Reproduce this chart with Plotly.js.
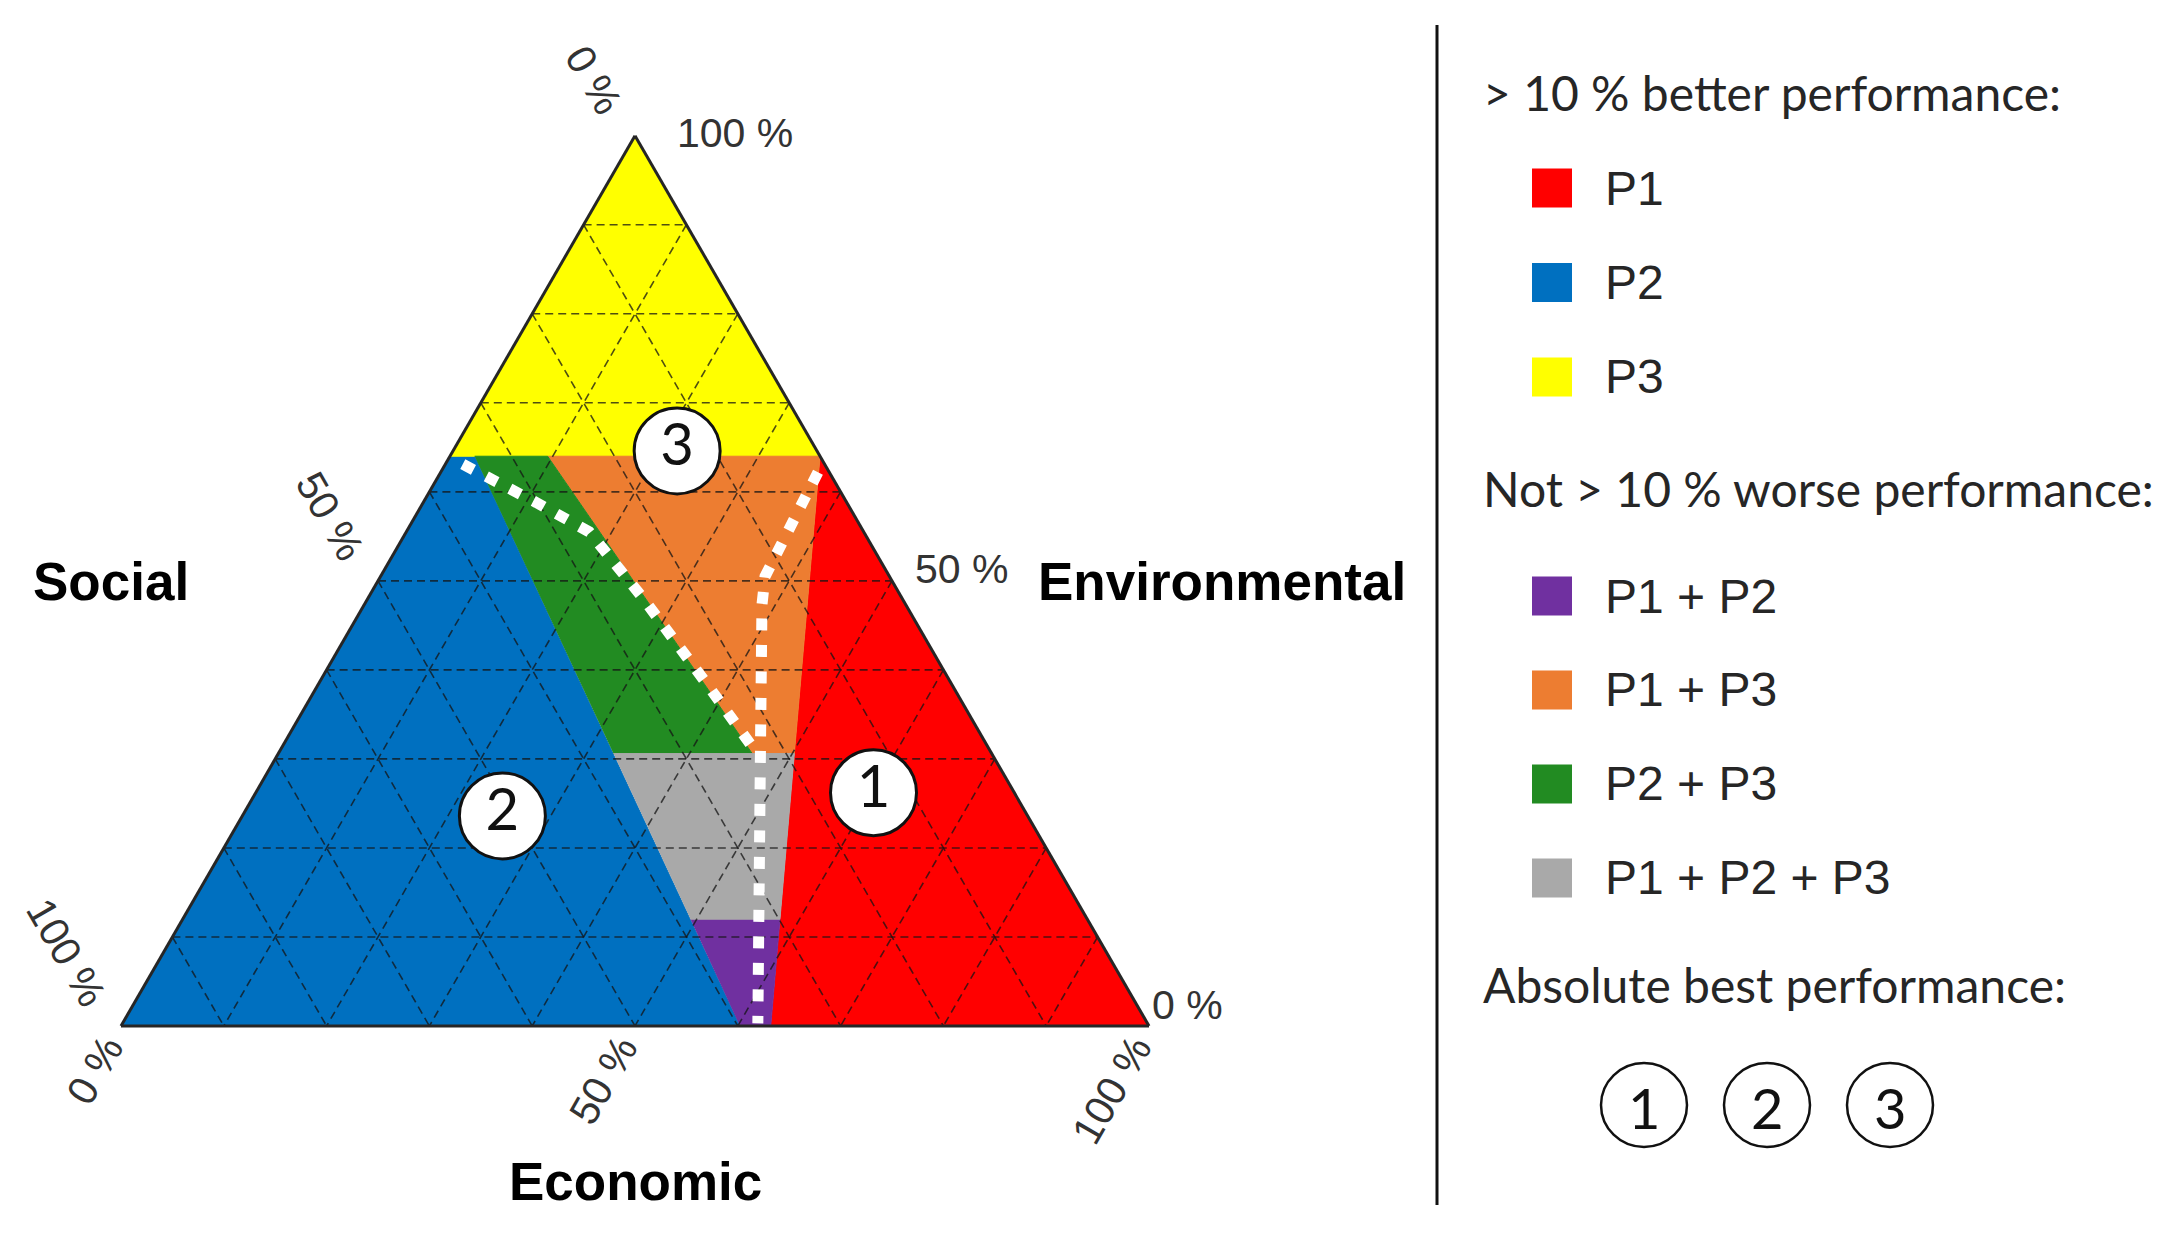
<!DOCTYPE html>
<html>
<head>
<meta charset="utf-8">
<title>Diagrama ternario</title>
<script src="https://cdn.plot.ly/plotly-3.0.1.min.js"></script>
<style>
  body { margin: 0; background: #fff; }
  #grafica { width: 2179px; height: 1240px; }
</style>
</head>
<body>
<div id="grafica"></div>
<script>
// Regiones del diagrama (fracciones Environmental / Social / Economic)
var nombres = ['P1', 'P2', 'P3', 'P1 + P2', 'P1 + P3', 'P2 + P3', 'P1 + P2 + P3'];
var colores = ['#ff0000', '#0070c0', '#ffff00', '#7030a0', '#ed7d31', '#228b22', '#a9a9a9'];

var envP1 = [0.64, 0, 0];
var socP1 = [0, 0, 0.368];
var ecoP1 = [0.36, 1, 0.632];

var envP2 = [0, 0.64, 0.64, 0];
var socP2 = [1, 0.36, 0.336, 0.398];
var ecoP2 = [0, 0, 0.024, 0.602];

var envP3 = [1, 0.64, 0.64];
var socP3 = [0, 0.36, 0];
var ecoP3 = [0, 0, 0.36];

var envP12 = [0.12, 0.12, 0, 0];
var socP12 = [0.386, 0.299, 0.368, 0.398];
var ecoP12 = [0.494, 0.581, 0.632, 0.602];

var envP13 = [0.64, 0.64, 0.306, 0.306];
var socP13 = [0.265, 0, 0.192, 0.233];
var ecoP13 = [0.095, 0.36, 0.502, 0.461];

var envP23 = [0.64, 0.64, 0.306, 0.306];
var socP23 = [0.336, 0.265, 0.233, 0.368];
var ecoP23 = [0.024, 0.095, 0.461, 0.326];

var envP123 = [0.306, 0.306, 0.12, 0.12];
var socP123 = [0.368, 0.192, 0.299, 0.386];
var ecoP123 = [0.326, 0.502, 0.581, 0.494];

// Lineas punteadas blancas
var envLineaA = [0.631, 0.588, 0.555, 0.481, 0.384, 0.304];
var socLineaA = [0.352, 0.302, 0.267, 0.252, 0.238, 0.228];
var ecoLineaA = [0.017, 0.11, 0.178, 0.267, 0.378, 0.468];

var envLineaB = [0.622, 0.505, 0.473, 0.306, 0.003];
var socLineaB = [0.011, 0.121, 0.14, 0.225, 0.379];
var ecoLineaB = [0.367, 0.374, 0.387, 0.469, 0.618];

// Mejor desempeno absoluto
var envMejor = [0.262, 0.236, 0.646];
var socMejor = [0.137, 0.511, 0.136];
var ecoMejor = [0.601, 0.253, 0.218];
var textoMejor = ['1', '2', '3'];

// Rejilla y etiquetas de los ejes
var marcas = [0.1, 0.2, 0.3, 0.4, 0.5, 0.6, 0.7, 0.8, 0.9];
var valoresEje = [0, 0.5, 1];
var etiquetasEje = ['0 %', '50 %', '100 %'];
var titulosEje = ['Social', 'Environmental', 'Economic'];

var titulosLeyenda = ['> 10 % better performance:', 'Not > 10 % worse performance:', 'Absolute best performance:'];

var envRegiones = [envP1, envP2, envP3, envP12, envP13, envP23, envP123];
var socRegiones = [socP1, socP2, socP3, socP12, socP13, socP23, socP123];
var ecoRegiones = [ecoP1, ecoP2, ecoP3, ecoP12, ecoP13, ecoP23, ecoP123];

var W = 2179, H = 1240;
var triX0 = 121, triX1 = 1149, triBase = 1026;
var triW = triX1 - triX0;
var triH = triW * Math.sqrt(3) / 2;

function aPixel(env, eco) {
    return [triX0 + triW * (eco + env / 2), triBase - triH * env];
}

function anchoTexto(s, size) {
    var total = 0;
    for (var i = 0; i < s.length; i++) {
        var ch = s.charAt(i);
        if (ch === ' ') total += 0.278;
        else if (ch === '%') total += 0.889;
        else total += 0.556;
    }
    return total * size;
}

function nota(px, py, texto, extra) {
    var n = {xref: 'paper', yref: 'paper', x: px / W, y: 1 - py / H, text: texto,
             showarrow: false, xanchor: 'center', yanchor: 'middle'};
    for (var k in extra) n[k] = extra[k];
    return n;
}

var datos = [];
for (var i = 0; i < nombres.length; i++) {
    datos.push({
        type: 'scatterternary', name: nombres[i],
        a: envRegiones[i], b: socRegiones[i], c: ecoRegiones[i],
        mode: 'lines', fill: 'toself', fillcolor: colores[i],
        line: {width: 1, color: colores[i]},
        hoverinfo: 'skip', showlegend: false
    });
}

// rejilla punteada encima de las regiones
var gA = [], gB = [], gC = [];
for (var i = 0; i < marcas.length; i++) {
    var v = marcas[i];
    gA.push(v, v, null, 1 - v, 0, null, 1 - v, 0, null);
    gB.push(1 - v, 0, null, v, v, null, 0, 1 - v, null);
    gC.push(0, 1 - v, null, 0, 1 - v, null, v, v, null);
}
datos.push({
    type: 'scatterternary', a: gA, b: gB, c: gC, mode: 'lines',
    line: {color: 'rgba(20,20,20,0.75)', width: 1.6, dash: '8px,5px'},
    hoverinfo: 'skip', showlegend: false
});

var lineasA = [envLineaA, envLineaB], lineasB = [socLineaA, socLineaB], lineasC = [ecoLineaA, ecoLineaB];
for (var i = 0; i < 2; i++) {
    datos.push({
        type: 'scatterternary', a: lineasA[i], b: lineasB[i], c: lineasC[i], mode: 'lines',
        line: {color: 'white', width: 11, dash: '12px,14.5px'},
        hoverinfo: 'skip', showlegend: false
    });
}

datos.push({
    type: 'scatterternary', a: envMejor, b: socMejor, c: ecoMejor, text: textoMejor,
    mode: 'markers+text', textposition: 'middle center',
    marker: {size: 86, color: 'white', line: {color: '#111', width: 3}},
    textfont: {family: 'Lato, sans-serif', size: 58, color: '#111'},
    hoverinfo: 'skip', showlegend: false, cliponaxis: false
});

function ejeTernario() {
    return {min: 0, showgrid: false, showticklabels: false, ticks: '',
            linecolor: '#262626', linewidth: 3, layer: 'above traces', title: {text: ''}};
}

var anotaciones = [];
var fuenteMarca = {family: 'Liberation Sans, Arial, sans-serif', size: 41, color: '#333'};

for (var i = 0; i < valoresEje.length; i++) {
    var v = valoresEje[i];
    var t = etiquetasEje[i];
    var w = anchoTexto(t, fuenteMarca.size);
    // Social: borde izquierdo
    var p = aPixel(1 - v, 0);
    var d = 34 + w / 2;
    anotaciones.push(nota(p[0] - 0.6 * d, p[1] - 0.8 * d, t, {textangle: 60, font: fuenteMarca}));
    // Economic: borde inferior
    p = aPixel(0, v);
    d = 16 + w / 2;
    anotaciones.push(nota(p[0] - 0.5 * d, p[1] + 0.866 * d, t, {textangle: -60, font: fuenteMarca}));
    // Environmental: borde derecho
    p = aPixel(v, 1 - v);
    anotaciones.push(nota(p[0] + 1 + 39 * v, p[1] - 21 + 18 * v, t, {xanchor: 'left', font: fuenteMarca}));
}

var fuenteTitulo = {family: 'Liberation Sans, Arial, sans-serif', size: 53, color: '#000'};
anotaciones.push(nota(191, 581, '<b>' + titulosEje[0] + '</b>', {xanchor: 'right', font: fuenteTitulo}));
anotaciones.push(nota(1036, 581, '<b>' + titulosEje[1] + '</b>', {xanchor: 'left', font: fuenteTitulo}));
anotaciones.push(nota(aPixel(0, 0.5)[0], 1181, '<b>' + titulosEje[2] + '</b>', {font: fuenteTitulo}));

// Leyenda dibujada a mano
var figuras = [];
figuras.push({type: 'line', xref: 'paper', yref: 'paper', x0: 1437 / W, x1: 1437 / W,
              y0: 1 - 25 / H, y1: 1 - 1205 / H, line: {color: '#111', width: 3}});

var fuenteCabecera = {family: 'Lato, sans-serif', size: 48, color: '#262626'};
var fuenteItem = {family: 'Liberation Sans, Arial, sans-serif', size: 48, color: '#262626'};
var yCabecera = [93, 489, 984];
for (var i = 0; i < titulosLeyenda.length; i++) {
    anotaciones.push(nota(1481, yCabecera[i], titulosLeyenda[i], {xanchor: 'left', font: fuenteCabecera}));
}

for (var i = 0; i < nombres.length; i++) {
    var y = i < 3 ? 188 + 94.5 * i : 596 + 94 * (i - 3);
    figuras.push({type: 'rect', xref: 'paper', yref: 'paper',
                  x0: 1532 / W, x1: 1572 / W, y0: 1 - (y - 19.5) / H, y1: 1 - (y + 19.5) / H,
                  fillcolor: colores[i], line: {width: 0}});
    anotaciones.push(nota(1603, y, nombres[i], {xanchor: 'left', font: fuenteItem}));
}

for (var i = 0; i < textoMejor.length; i++) {
    var cx = 1644 + 123 * i, cy = 1105;
    figuras.push({type: 'circle', xref: 'paper', yref: 'paper',
                  x0: (cx - 43) / W, x1: (cx + 43) / W, y0: 1 - (cy - 42) / H, y1: 1 - (cy + 42) / H,
                  fillcolor: 'white', line: {color: '#111', width: 2.5}});
    anotaciones.push(nota(cx, cy + 2, textoMejor[i], {font: {family: 'Lato, sans-serif', size: 56, color: '#111'}}));
}

var layout = {
    width: W, height: H,
    margin: {l: 0, r: 0, t: 0, b: 0, pad: 0},
    paper_bgcolor: 'white',
    showlegend: false,
    ternary: {
        sum: 1,
        domain: {x: [triX0 / W, triX1 / W], y: [(H - triBase) / H, (H - triBase + triH) / H]},
        bgcolor: 'rgba(0,0,0,0)',
        aaxis: ejeTernario(), baxis: ejeTernario(), caxis: ejeTernario()
    },
    annotations: anotaciones,
    shapes: figuras
};

Plotly.newPlot('grafica', datos, layout, {displayModeBar: false, staticPlot: true});
</script>
</body>
</html>
